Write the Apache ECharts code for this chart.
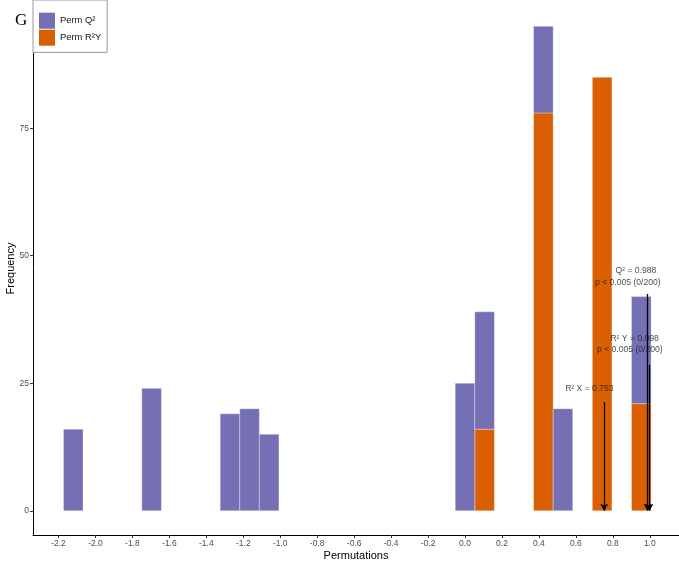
<!DOCTYPE html>
<html>
<head>
<meta charset="utf-8">
<script src="https://cdn.jsdelivr.net/npm/echarts@6/dist/echarts.min.js"></script>
<style>
  html, body { margin: 0; padding: 0; background: #fff; }
  #chart { width: 679px; height: 568px; }
</style>
</head>
<body>
<div id="chart"></div>
<script>
  // histogram bins (centre of each bin) and counts
  const binCenters = [-2.12, -1.696, -1.272, -1.166, -1.06, 0, 0.106, 0.424, 0.53, 0.742, 0.954];
  const binWidth = 0.106;
  const permQ2 = [16, 24, 19, 20, 15, 25, 23, 17, 20, 0, 21];
  const permR2Y = [0, 0, 0, 0, 0, 0, 16, 78, 0, 85, 21];

  const xTicks = [-2.2, -2.0, -1.8, -1.6, -1.4, -1.2, -1.0, -0.8, -0.6, -0.4, -0.2, 0.0, 0.2, 0.4, 0.6, 0.8, 1.0];
  const yTicks = [0, 25, 50, 75];

  // observed statistics (arrows) and their text labels
  const arrowX = [0.753, 0.988, 0.998];
  const arrowTop = [21.3, 42.5, 28.6];
  const noteText = ['Q² = 0.988', 'p < 0.005 (0/200)', 'R² Y = 0.998', 'p < 0.005 (0/200)', 'R² X = 0.753'];
  const noteX = [0.925, 0.881, 0.918, 0.892, 0.673];
  const noteY = [47.1, 44.7, 33.7, 31.5, 24.0];

  const BLUE = '#7570B3';
  const ORANGE = '#D95F02';
  const FONT = 'Liberation Sans';

  // stacked: R2Y at the bottom, Q2 on top
  let r2yRows = [];
  let q2Rows = [];
  binCenters.forEach(function (c, i) {
    if (permR2Y[i] > 0) r2yRows.push([c, 0, permR2Y[i]]);
    if (permQ2[i] > 0) q2Rows.push([c, permR2Y[i], permR2Y[i] + permQ2[i]]);
  });

  function renderBar(params, api) {
    const c = api.value(0);
    const p0 = api.coord([c - binWidth / 2, api.value(2)]);
    const p1 = api.coord([c + binWidth / 2, api.value(1)]);
    return {
      type: 'rect',
      shape: { x: p0[0], y: p0[1], width: p1[0] - p0[0], height: p1[1] - p0[1] },
      style: { fill: api.visual('color'), stroke: 'rgba(255,255,255,0.55)', lineWidth: 0.6 }
    };
  }

  let arrows = arrowX.map(function (x, i) {
    return [{ coord: [x, arrowTop[i]] }, { coord: [x, 0] }];
  });

  let notes = noteText.map(function (t, i) {
    return [noteX[i], noteY[i], t];
  });

  let chart = echarts.init(document.getElementById('chart'), null, { renderer: 'canvas' });
  chart.setOption({
    animation: false,
    textStyle: { fontFamily: FONT },
    title: {
      text: 'G',
      left: 10,
      top: 7,
      textStyle: { fontFamily: 'Liberation Serif', fontSize: 17, fontWeight: 'normal', color: '#000' }
    },
    legend: {
      data: ['Perm Q²', 'Perm R²Y'],
      orient: 'vertical',
      left: 33,
      top: 0,
      padding: [12.7, 6, 6.7, 6],
      itemWidth: 16,
      itemHeight: 16,
      itemGap: 1,
      icon: 'rect',
      borderColor: '#999',
      borderWidth: 1,
      backgroundColor: '#fff',
      textStyle: { fontFamily: FONT, fontSize: 9.4, color: '#111' }
    },
    grid: { left: 33, right: 0, top: 2, bottom: 33, containLabel: false, outerBoundsMode: 'none' },
    xAxis: {
      type: 'value',
      min: -2.338,
      max: 1.158,
      name: 'Permutations',
      nameLocation: 'middle',
      nameGap: 15,
      nameMoveOverlap: false,
      nameTextStyle: { fontFamily: FONT, fontSize: 11, color: '#000' },
      axisLine: { show: true, onZero: false, lineStyle: { color: '#000', width: 1 } },
      axisTick: { show: true, length: 3, customValues: xTicks, lineStyle: { color: '#333' } },
      axisLabel: {
        customValues: xTicks,
        formatter: function (v) { return v.toFixed(1); },
        color: '#4d4d4d',
        fontSize: 8.5,
        margin: 4
      },
      splitLine: { show: false }
    },
    yAxis: {
      type: 'value',
      min: -4.75,
      max: 99.75,
      name: 'Frequency',
      nameLocation: 'middle',
      nameGap: 17,
      nameMoveOverlap: false,
      nameTextStyle: { fontFamily: FONT, fontSize: 11, color: '#000' },
      axisLine: { show: true, onZero: false, lineStyle: { color: '#000', width: 1 } },
      axisTick: { show: true, length: 3, customValues: yTicks, lineStyle: { color: '#333' } },
      axisLabel: { customValues: yTicks, color: '#4d4d4d', fontSize: 8.5, margin: 4 },
      splitLine: { show: false }
    },
    series: [
      {
        name: 'Perm R²Y',
        type: 'custom',
        renderItem: renderBar,
        itemStyle: { color: ORANGE },
        encode: { x: 0, y: [1, 2] },
        data: r2yRows,
        z: 2
      },
      {
        name: 'Perm Q²',
        type: 'custom',
        renderItem: renderBar,
        itemStyle: { color: BLUE },
        encode: { x: 0, y: [1, 2] },
        data: q2Rows,
        z: 2
      },
      {
        type: 'line',
        data: [],
        z: 5,
        markLine: {
          silent: true,
          symbol: ['none', 'arrow'],
          symbolSize: [6, 7],
          label: { show: false },
          lineStyle: { color: '#000', width: 1.3, type: 'solid' },
          data: arrows
        }
      },
      {
        type: 'scatter',
        symbolSize: 0,
        silent: true,
        z: 6,
        data: notes,
        label: {
          show: true,
          position: 'inside',
          formatter: function (p) { return p.value[2]; },
          fontFamily: FONT,
          fontSize: 8.6,
          color: '#1a1a1a'
        }
      }
    ]
  });
</script>
</body>
</html>
